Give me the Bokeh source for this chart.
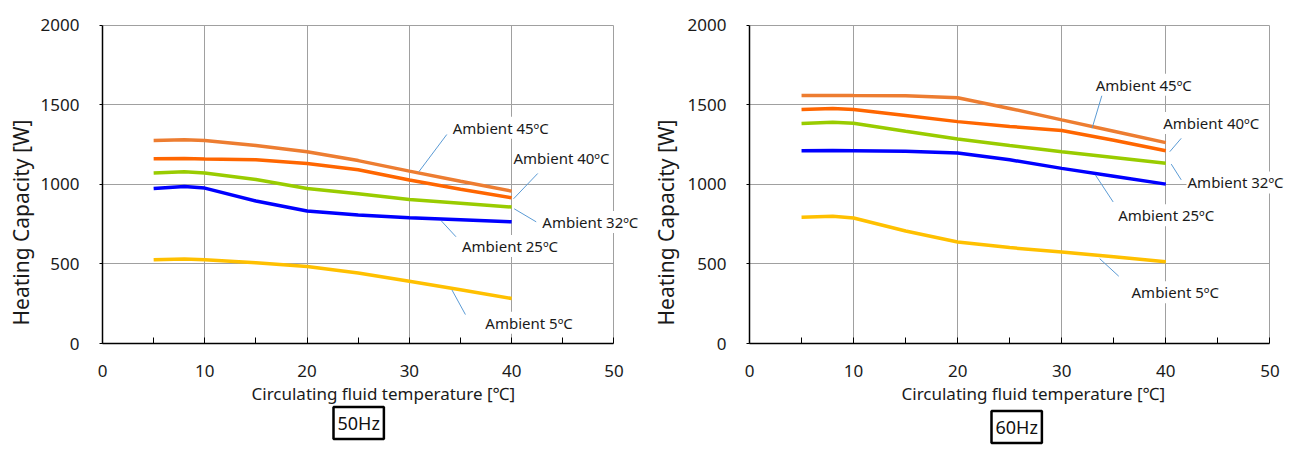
from bokeh.plotting import figure
from bokeh.models import Range1d, FixedTicker, Label, Title
from bokeh.layouts import row
from bokeh.embed import file_html
from bokeh.resources import INLINE

# ---------------- data ----------------
temps = [5, 8, 10, 15, 20, 25, 30, 35, 40]

hz50_45 = [1277, 1281, 1277, 1245, 1206, 1150, 1084, 1020, 958]
hz50_40 = [1162, 1163, 1160, 1155, 1132, 1092, 1028, 970, 916]
hz50_32 = [1072, 1080, 1072, 1031, 975, 942, 906, 882, 858]
hz50_25 = [975, 987, 977, 896, 833, 808, 791, 778, 765]
hz50_5 = [526, 531, 526, 507, 484, 443, 392, 338, 283]

hz60_45 = [1559, 1560, 1559, 1557, 1545, 1478, 1406, 1335, 1263]
hz60_40 = [1471, 1477, 1471, 1433, 1395, 1365, 1339, 1278, 1212]
hz60_32 = [1383, 1391, 1385, 1335, 1286, 1245, 1206, 1170, 1134]
hz60_25 = [1212, 1213, 1212, 1208, 1198, 1155, 1101, 1052, 1002]
hz60_5 = [794, 800, 789, 707, 638, 603, 575, 545, 514]

series_names = ["Ambient 45ºC", "Ambient 40ºC", "Ambient 32ºC", "Ambient 25ºC", "Ambient 5ºC"]
series_colors = ["#ED7D31", "#FF6600", "#99CC00", "#0000FF", "#FFC000"]

x_ticks = [0, 10, 20, 30, 40, 50]
x_minor = [5, 15, 25, 35, 45]
y_ticks = [0, 500, 1000, 1500, 2000]

x_title = "Circulating fluid temperature [℃]"
y_title = "Heating Capacity [W]"

FONT = "Noto Sans"

# label placement (text left/middle anchor, leader segment) in data units
left_labels = [
    ((34.14, 1357), (33.66, 1314, 30.93, 1080)),
    ((40.08, 1168), (42.55, 1069, 40.19, 910)),
    ((42.9, 764), (40.25, 847, 42.4, 765)),
    ((35.05, 613), (33.14, 770, 34.56, 671)),
    ((37.33, 130), (34.17, 336, 35.48, 182)),
]
right_labels = [
    ((33.17, 1627), (33.88, 1564, 32.92, 1354)),
    ((39.65, 1387), (41.48, 1290, 40.38, 1206)),
    ((41.99, 1013), (40.52, 1128, 41.48, 1029)),
    ((35.33, 806), (33.24, 1059, 34.94, 890)),
    ((36.61, 322), (33.65, 533, 35.48, 423)),
]


def make_chart(series, labels, box_text, box_offset, box_standoff, xlab_offset, ylab_standoff,
               xmax, fw, borders):
    bl, br = borders
    p = figure(frame_width=fw, frame_height=320, output_backend="svg", toolbar_location=None,
               x_range=Range1d(0, xmax), y_range=Range1d(0, 2012),
               min_border_left=bl, min_border_right=br, min_border_top=23, min_border_bottom=104)
    p.outline_line_color = None
    p.background_fill_color = "white"
    p.border_fill_color = "white"

    # axes
    p.xaxis.ticker = FixedTicker(ticks=x_ticks, minor_ticks=x_minor)
    p.yaxis.ticker = FixedTicker(ticks=y_ticks)
    p.xaxis.bounds = (0, 50)
    p.yaxis.bounds = (0, 2000)
    for ax in (p.xaxis[0], p.yaxis[0]):
        ax.axis_line_color = "black"
        ax.axis_line_width = 1.5
        ax.major_tick_line_color = "black"
        ax.minor_tick_line_color = "black"
        ax.major_label_text_font = FONT
        ax.major_label_text_font_size = "17px"
        ax.major_label_text_color = "#1a1a1a"
    p.xaxis.major_tick_in = 6
    p.xaxis.major_tick_out = 0
    p.xaxis.minor_tick_in = 6
    p.xaxis.minor_tick_out = 0
    p.xaxis.major_label_standoff = 21
    p.yaxis.major_tick_in = 0
    p.yaxis.major_tick_out = 3
    p.yaxis.minor_tick_line_color = None
    p.yaxis.major_label_standoff = 20

    p.xgrid.ticker = FixedTicker(ticks=[10, 20, 30, 40, 50])
    p.ygrid.ticker = FixedTicker(ticks=[500, 1000, 1500, 2000])
    p.ygrid.cross_bounds = (0, 50)
    p.xgrid.cross_bounds = (0, 2000)
    p.xgrid.grid_line_color = "#A0A0A0"
    p.ygrid.grid_line_color = "#A0A0A0"
    p.xgrid.grid_line_width = 1
    p.ygrid.grid_line_width = 1

    # axis titles (placed as titles so they can sit off-centre like the original)
    p.add_layout(Title(text=y_title, align="left", offset=18, text_font=FONT,
                       text_font_size="21px", text_font_style="normal", text_color="#1a1a1a",
                       standoff=ylab_standoff), "left")
    p.add_layout(Title(text=x_title, align="left", offset=xlab_offset, text_font=FONT,
                       text_font_size="17px", text_font_style="normal", text_color="#1a1a1a",
                       standoff=0), "below")

    for vals, color in zip(series, series_colors):
        p.line(temps, vals, line_color=color, line_width=3.5)

    for name, ((tx, ty), (x0, y0, x1, y1)) in zip(series_names, labels):
        p.segment(x0=[x0], y0=[y0], x1=[x1], y1=[y1], line_color="#5B9BD5", line_width=1)
        p.add_layout(Label(x=tx, y=ty, text=name, text_align="left", text_baseline="middle",
                           text_font=FONT, text_font_size="15px", text_color="#1a1a1a",
                           background_fill_color="white", padding=1))

    p.add_layout(Title(text=box_text, align="left", offset=box_offset, text_font=FONT,
                       text_font_size="18px", text_font_style="normal", text_color="#111111",
                       background_fill_color="white", border_line_color="black",
                       border_line_width=2.5, padding=4, standoff=box_standoff), "below")
    return p


p1 = make_chart([hz50_45, hz50_40, hz50_32, hz50_25, hz50_5], left_labels, "50Hz", 231, 1, 149, 5,
                52.5, 537, (102, 3))
p2 = make_chart([hz60_45, hz60_40, hz60_32, hz60_25, hz60_5], right_labels, "60Hz", 242, 9, 152, 9,
                51.5, 536, (107, 8))

layout = row(p1, p2)
open("out.html", "w").write(file_html(layout, INLINE))
